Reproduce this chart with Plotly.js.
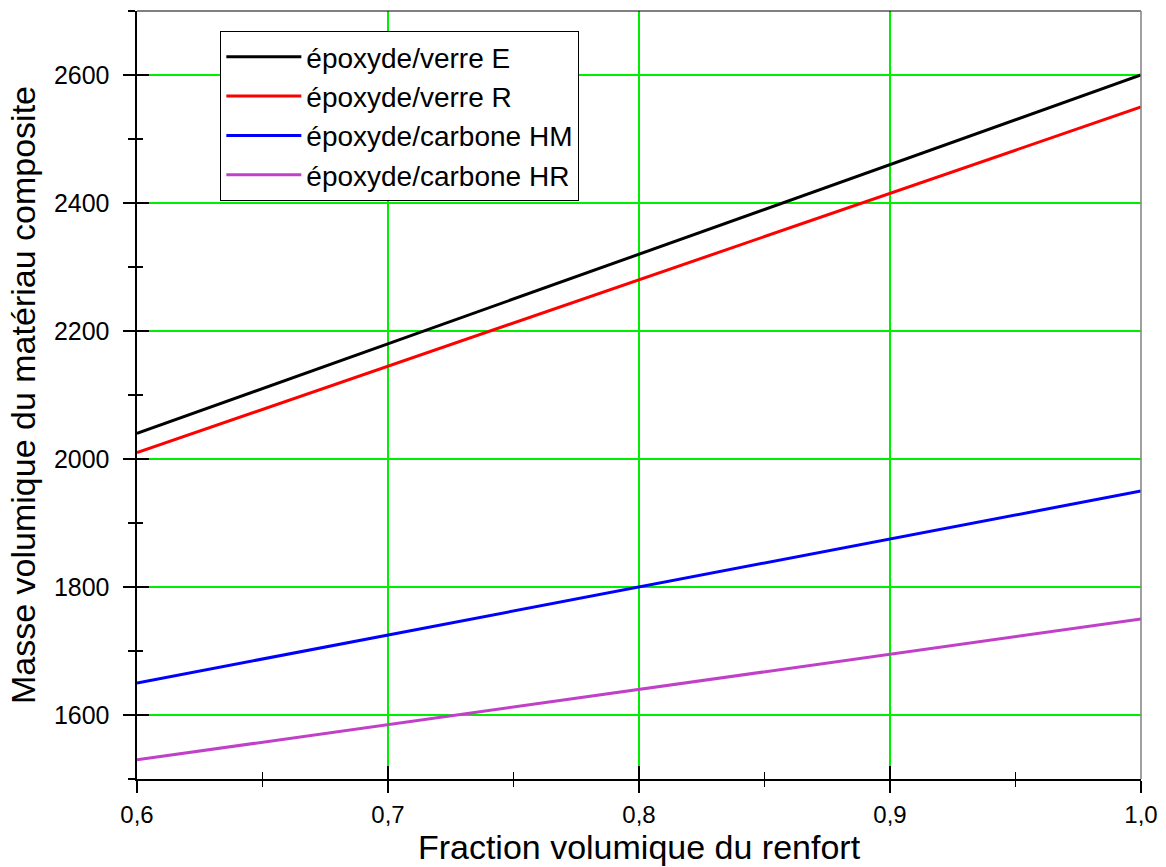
<!DOCTYPE html>
<html>
<head>
<meta charset="utf-8">
<script src="https://cdn.plot.ly/plotly-3.0.1.min.js"></script>
<style>html,body{margin:0;padding:0;background:#fff;}#chart{width:1166px;height:867px;}</style>
</head>
<body>
<div id="chart"></div>
<script>
// Data
const fraction = [0.6, 0.7, 0.8, 0.9, 1.0];
const verreE   = [2040, 2180, 2320, 2460, 2600];
const verreR   = [2010, 2145, 2280, 2415, 2550];
const carboneHM = [1650, 1725, 1800, 1875, 1950];
const carboneHR = [1530, 1585, 1640, 1695, 1750];
const seriesNames = ['époxyde/verre E', 'époxyde/verre R', 'époxyde/carbone HM', 'époxyde/carbone HR'];
const seriesColors = ['#000000', '#ff0000', '#0000ff', '#c040c8'];
const seriesValues = [verreE, verreR, carboneHM, carboneHR];
const xTicks = [0.6, 0.7, 0.8, 0.9, 1.0];
const xTickText = ['0,6', '0,7', '0,8', '0,9', '1,0'];
const yTicks = [1600, 1800, 2000, 2200, 2400, 2600];

const FONT = 'Arial, "Liberation Sans", sans-serif';
const GRID = '#00ee00';

const traces = seriesValues.map((v, i) => ({
  x: fraction, y: v, type: 'scatter', mode: 'lines',
  name: seriesNames[i],
  line: {color: seriesColors[i], width: 3}
}));
// empty trace hosting the overlay axes that draw the inner half of the tick marks
traces.push({x: [], y: [], xaxis: 'x2', yaxis: 'y2', showlegend: false, hoverinfo: 'skip', type: 'scatter', mode: 'lines'});

const xr = [0.6, 1.0], yr = [1500, 2700];

const layout = {
  width: 1166, height: 867,
  margin: {l: 137, r: 25, t: 11, b: 88},
  paper_bgcolor: '#ffffff', plot_bgcolor: '#ffffff',
  separators: ', ',
  font: {family: FONT, color: '#000'},
  showlegend: true,
  legend: {
    x: 0.083, y: 0.974, xanchor: 'left', yanchor: 'top',
    bgcolor: '#ffffff', bordercolor: '#000', borderwidth: 1,
    font: {family: FONT, size: 28, color: '#000'},
    itemwidth: 75,
    tracegroupgap: 0
  },
  xaxis: {
    range: xr, tickmode: 'array', tickvals: xTicks, ticktext: xTickText,
    showgrid: true, gridcolor: GRID, gridwidth: 1.2,
    zeroline: false,
    showline: true, linecolor: '#000', linewidth: 1.5,
    ticks: 'outside', ticklen: 12, tickwidth: 1.5, tickcolor: '#000',
    minor: {dtick: 0.05, tick0: 0.6, ticks: 'outside', ticklen: 6, tickwidth: 1.5, tickcolor: '#000', showgrid: false},
    tickfont: {family: FONT, size: 24, color: '#000'},
    ticklabelstandoff: 2,
    title: {text: 'Fraction volumique du renfort', font: {family: FONT, size: 34, color: '#000'}, standoff: 6}
  },
  yaxis: {
    range: yr, tickmode: 'array', tickvals: yTicks,
    showgrid: true, gridcolor: GRID, gridwidth: 1.2,
    zeroline: false,
    showline: true, linecolor: '#000', linewidth: 2.5,
    ticks: 'outside', ticklen: 12, tickwidth: 1.5, tickcolor: '#000',
    minor: {dtick: 100, tick0: 1500, ticks: 'outside', ticklen: 7, tickwidth: 1.5, tickcolor: '#000', showgrid: false},
    tickfont: {family: FONT, size: 25, color: '#000'},
    ticklabelstandoff: 8,
    title: {text: 'Masse volumique du matériau composite', font: {family: FONT, size: 34, color: '#000'}, standoff: 8}
  },
  xaxis2: {
    overlaying: 'x', anchor: 'y2', range: xr, tickmode: 'array', tickvals: xTicks,
    showgrid: false, zeroline: false, showline: false, showticklabels: false,
    ticks: 'inside', ticklen: 13, tickwidth: 1.5, tickcolor: '#000',
    minor: {dtick: 0.05, tick0: 0.6, ticks: 'inside', ticklen: 7, tickwidth: 1.5, tickcolor: '#000', showgrid: false}
  },
  yaxis2: {
    overlaying: 'y', anchor: 'x2', side: 'left', range: yr, tickmode: 'array', tickvals: yTicks,
    showgrid: false, zeroline: false, showline: false, showticklabels: false,
    ticks: 'inside', ticklen: 12, tickwidth: 1.5, tickcolor: '#000',
    minor: {dtick: 100, tick0: 1500, ticks: 'inside', ticklen: 6, tickwidth: 1.5, tickcolor: '#000', showgrid: false}
  },
  shapes: [
    {type: 'line', xref: 'paper', yref: 'paper', x0: 0, x1: 1, y0: 1, y1: 1, line: {color: '#000', width: 1}},
    {type: 'line', xref: 'paper', yref: 'paper', x0: 1, x1: 1, y0: 0, y1: 1, line: {color: '#808080', width: 1.5}}
  ]
};

Plotly.newPlot('chart', traces, layout, {staticPlot: true, displayModeBar: false});
</script>
</body>
</html>
